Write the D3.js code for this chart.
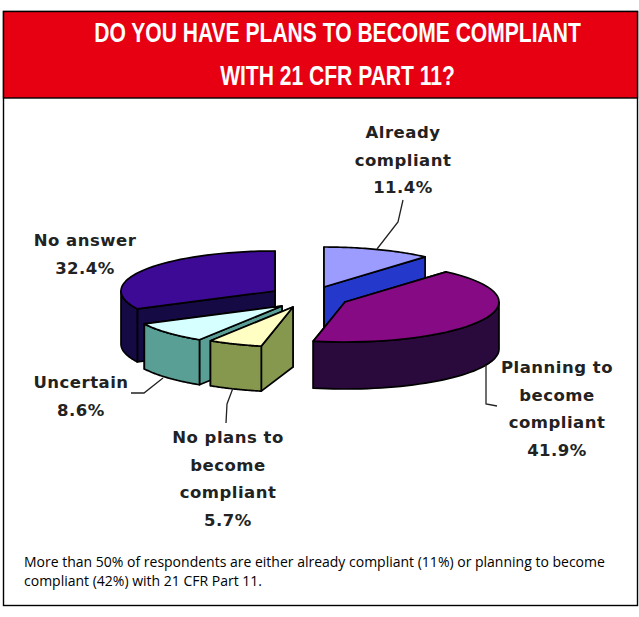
<!DOCTYPE html>
<html>
<head>
<meta charset="utf-8">
<script src="https://cdn.jsdelivr.net/npm/d3@7/dist/d3.min.js"></script>
<style>
  html, body { margin: 0; padding: 0; background: #fff; }
  svg { display: block; }
</style>
</head>
<body>
<svg id="chart" width="639" height="617"></svg>
<script>
// Survey responses, clockwise from twelve o'clock
const categories = ["Already compliant", "Planning to become compliant", "No plans to become compliant", "Uncertain", "No answer"];
const shares = [11.4, 41.9, 5.7, 8.6, 32.4];
const labelLines = [
  ["Already", "compliant", "11.4%"],
  ["Planning to", "become", "compliant", "41.9%"],
  ["No plans to", "become", "compliant", "5.7%"],
  ["Uncertain", "8.6%"],
  ["No answer", "32.4%"]
];
const titleLines = ["DO YOU HAVE PLANS TO BECOME COMPLIANT", "WITH 21 CFR PART 11?"];
const captionLines = [
  "More than 50% of respondents are either already compliant (11%) or planning to become",
  "compliant (42%) with 21 CFR Part 11."
];

// Drawing setup for each wedge, in the same order as the categories
const wedgeStyle = [
  { cx: 324, cy: 287, depth: 42, apexDepth: 40, top: "#9c9cff", wall: "#2438cc",
    label: [403, 138], leader: [[377, 249], [398, 222], [403, 200]] },
  { cx: 345, cy: 302, depth: 47, apexDepth: 47, top: "#860a84", wall: "#2a0a3c",
    label: [557, 373], leader: [[486, 365], [486, 404], [497, 406]] },
  { cx: 293, cy: 307, depth: 45, apexDepth: 60, top: "#ffffc4", wall: "#86984e",
    label: [228, 443], leader: [[233, 388], [227, 404], [226, 423]] },
  { cx: 282, cy: 306, depth: 45, apexDepth: 45, top: "#d6ffff", wall: "#5a9f96",
    label: [81, 388], leader: [[163, 378], [144, 393], [131, 393]] },
  { cx: 275, cy: 291, depth: 53, apexDepth: 53, top: "#3c0a94", wall: "#160a44",
    label: [85, 246], leader: null }
];
// Back-to-front painting order
const paintOrder = [4, 0, 1, 3, 2];

const svg = d3.select("#chart");

// Frame and header
svg.append("rect").attr("x", 3.5).attr("y", 11.5).attr("width", 634).attr("height", 594)
  .attr("fill", "#fff").attr("stroke", "#000").attr("stroke-width", 1.4);
svg.append("rect").attr("x", 3.5).attr("y", 11.5).attr("width", 634).attr("height", 86.5)
  .attr("fill", "#e60012").attr("stroke", "#000").attr("stroke-width", 1.4);

// Condensed header type, fitted by horizontal scaling about the line centre
const titleCentre = 337.5;
svg.selectAll("text.title").data(titleLines).join("text")
  .attr("class", "title")
  .attr("transform", (d, i) => `translate(${titleCentre},${42 + i * 43}) scale(0.78,1)`)
  .attr("text-anchor", "middle")
  .attr("font-family", "'Liberation Sans', Arial, sans-serif")
  .attr("font-weight", 700).attr("font-size", 27).attr("fill", "#fff")
  .text(d => d);

// Pie angles from the survey shares
const pie = d3.pie().sort(null).value(d => d);
const arcs = pie(shares);

// Tilted-disc projection: radial distance maps through separate x and y scales
const radiusX = d3.scaleLinear().domain([0, 1]).range([0, 154]);
const radiusY = d3.scaleLinear().domain([0, 1]).range([0, 40]);
const project = (s, angle, r = 1, drop = 0) => [
  s.cx + radiusX(r) * Math.sin(angle),
  s.cy - radiusY(r) * Math.cos(angle) + drop
];
const sample = (a0, a1) => d3.range(0, 41).map(i => a0 + (a1 - a0) * i / 40);
const line = d3.line();

const g = svg.append("g").attr("stroke", "#000").attr("stroke-width", 1.7).attr("stroke-linejoin", "round");

paintOrder.forEach(i => {
  const a = arcs[i], s = wedgeStyle[i];
  const wedge = g.append("g").attr("class", "wedge").attr("data-category", categories[i]);
  const wall = wedge.append("g").attr("fill", s.wall);

  // Cut faces below the two radial edges
  [a.endAngle, a.startAngle].forEach(angle => {
    const pts = [
      [s.cx, s.cy],
      project(s, angle),
      project(s, angle, 1, s.depth),
      [s.cx, s.cy + s.apexDepth]
    ];
    wall.append("path").attr("d", line(pts) + "Z");
  });

  // Outer rim, only where it faces the viewer
  const from = Math.max(a.startAngle, Math.PI / 2);
  const to = Math.min(a.endAngle, Math.PI * 1.5);
  if (to > from) {
    const rim = sample(from, to);
    const pts = rim.map(t => project(s, t)).concat(rim.slice().reverse().map(t => project(s, t, 1, s.depth)));
    wall.append("path").attr("d", line(pts) + "Z");
  }

  // Top face
  const topPts = [[s.cx, s.cy]].concat(sample(a.startAngle, a.endAngle).map(t => project(s, t)));
  wedge.append("path").attr("d", line(topPts) + "Z").attr("fill", s.top);
});

// Leader lines
svg.append("g").attr("fill", "none").attr("stroke", "#222").attr("stroke-width", 1.3)
  .selectAll("path").data(wedgeStyle.filter(s => s.leader)).join("path")
  .attr("d", s => line(s.leader));

// Wedge labels
const labels = svg.append("g")
  .attr("font-family", "'DejaVu Sans', sans-serif").attr("font-weight", 700).attr("font-size", 16.5)
  .attr("letter-spacing", 0.5)
  .attr("fill", "#222").attr("text-anchor", "middle");
labelLines.forEach((lines, i) => {
  const [x, y] = wedgeStyle[i].label;
  lines.forEach((t, j) => {
    labels.append("text").attr("x", x).attr("y", y + j * 27.5).text(t);
  });
});

// Caption
svg.selectAll("text.caption").data(captionLines).join("text")
  .attr("class", "caption")
  .attr("x", 24).attr("y", (d, i) => 567 + i * 19)
  .attr("font-family", "'Open Sans', sans-serif").attr("font-size", 14)
  .attr("fill", "#000").text(d => d);
</script>
</body>
</html>
